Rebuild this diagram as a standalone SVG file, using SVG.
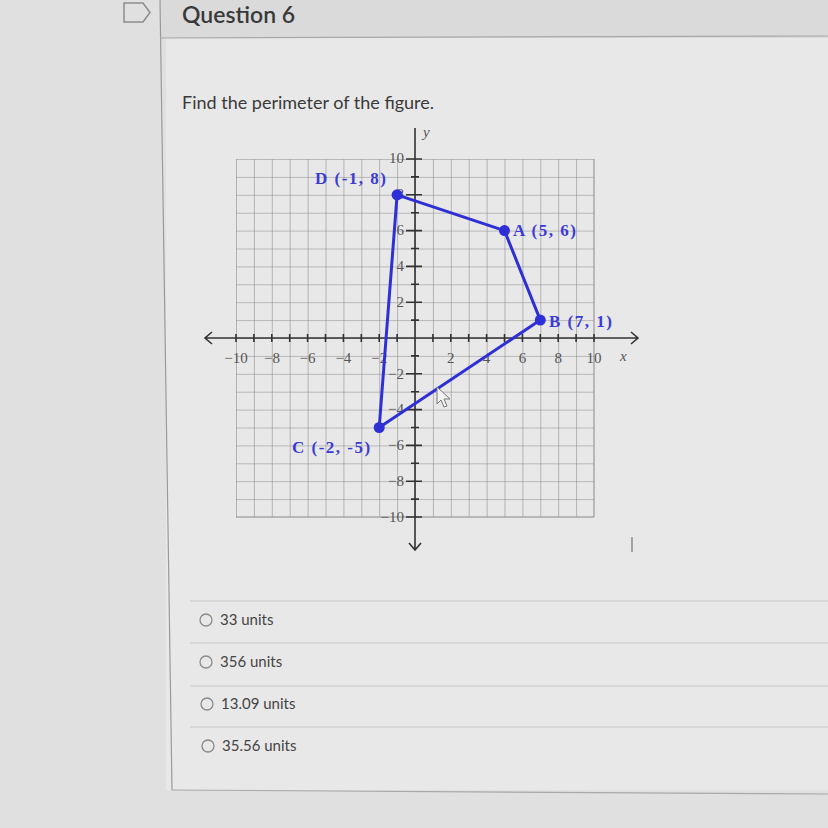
<svg xmlns="http://www.w3.org/2000/svg" width="828" height="828" viewBox="0 0 828 828">
<style>
.ui{font-family:Lato,"Open Sans","Liberation Sans",sans-serif;fill:#3a3a3a}
.tick{font-family:"Liberation Serif","DejaVu Serif",serif;font-size:15px;fill:#555}
.pt{font-family:"Liberation Serif","DejaVu Serif",serif;font-size:17px;font-weight:bold;fill:#3b3bd6;letter-spacing:1.5px}
.axis{stroke:#333;stroke-width:1.6;fill:none}
.edge{stroke:#2f2fd8;stroke-width:3;fill:none;stroke-linecap:round}
.dot{fill:#2f2fd8}
.sep{stroke:#c6c6c6;stroke-width:1}
.radio{fill:none;stroke:#8a8a8a;stroke-width:1.3}
.ans{font-family:Lato,"Open Sans","Liberation Sans",sans-serif;font-size:15px;fill:#444}
</style>
<defs>
<pattern id="gr" width="17.9" height="17.9" patternUnits="userSpaceOnUse" x="236" y="159">
<path d="M0 0V17.9M0 0H17.9" stroke="#888" stroke-width="1.1" fill="none"/>
</pattern>
</defs>
<rect width="828" height="828" fill="#e0e0e0"/>
<rect x="160" y="0" width="668" height="38" fill="#dadada"/>
<rect x="166" y="38" width="662" height="752" fill="#e8e8e8"/>
<line x1="160" y1="0" x2="172" y2="790" stroke="#9a9a9a" stroke-width="1.2"/>
<line x1="160" y1="38" x2="828" y2="36" stroke="#a8a8a8" stroke-width="1.2"/>
<line x1="172" y1="790" x2="828" y2="794" stroke="#a8a8a8" stroke-width="1.2"/>
<g id="header">
<path d="M124 3H143L150 12.5L143 22H124Z" fill="none" stroke="#8c8c8c" stroke-width="1.5"/>
<text class="ui" x="182" y="23" font-size="23" font-weight="600">Question 6</text>
</g>
<text class="ui" x="182" y="109" font-size="18">Find the perimeter of the figure.</text>
<g id="graph">
<rect x="236" y="159" width="358" height="358" fill="url(#gr)"/>
<line x1="594" y1="159" x2="594" y2="517" stroke="#888"/>
<line x1="236" y1="517" x2="594" y2="517" stroke="#888"/>
<path class="axis" d="M205 338H638M212 332L205 338L212 344M631 332L638 338L631 344"/>
<path class="axis" d="M415 128V550M409 543L415 550L421 543"/>
<path class="axis" stroke-width="1.2" d="M236 334v8M253.9 334v8M271.8 334v8M289.7 334v8M307.6 334v8M325.5 334v8M343.4 334v8M361.3 334v8M379.2 334v8M397.1 334v8M432.9 334v8M450.8 334v8M468.7 334v8M486.6 334v8M504.5 334v8M522.4 334v8M540.3 334v8M558.2 334v8M576.1 334v8M594 334v8M406 159h16M411 176.9h8M406 194.8h16M411 212.7h8M406 230.6h16M411 248.5h8M406 266.4h16M411 284.3h8M406 302.2h16M411 320.1h8M411 355.9h8M406 373.8h16M411 391.7h8M406 409.6h16M411 427.5h8M406 445.4h16M411 463.3h8M406 481.2h16M411 499.1h8M406 517h16"/>
<g class="tick" text-anchor="middle">
<text x="236" y="363">−10</text><text x="272" y="363">−8</text><text x="307.6" y="363">−6</text><text x="343.4" y="363">−4</text><text x="379.2" y="363">−2</text>
<text x="450.8" y="363">2</text><text x="486.6" y="363">4</text><text x="522.4" y="363">6</text><text x="558.2" y="363">8</text><text x="594" y="363">10</text>
</g>
<text class="tick" x="620" y="361" font-style="italic">x</text>
<text class="tick" x="423" y="137" font-style="italic">y</text>
<g class="tick" text-anchor="end">
<text x="404" y="163">10</text><text x="404" y="199">8</text><text x="404" y="235">6</text><text x="404" y="271">4</text><text x="404" y="307">2</text>
<text x="404" y="379">−2</text><text x="404" y="414">−4</text><text x="404" y="450">−6</text><text x="404" y="486">−8</text><text x="404" y="522">−10</text>
</g>
</g>
<g id="connectors">
<line class="edge" x1="397.1" y1="194.8" x2="504.5" y2="230.6"/>
<line class="edge" x1="504.5" y1="230.6" x2="540.3" y2="320.1"/>
<line class="edge" x1="540.3" y1="320.1" x2="379.2" y2="427.5"/>
<line class="edge" x1="379.2" y1="427.5" x2="397.1" y2="194.8"/>
</g>
<g id="point-D"><circle class="dot" cx="397.1" cy="194.8" r="5.5"/><text class="pt" x="315" y="184">D (-1, 8)</text></g>
<g id="point-A"><circle class="dot" cx="504.5" cy="230.6" r="5.5"/><text class="pt" x="513" y="236">A (5, 6)</text></g>
<g id="point-B"><circle class="dot" cx="540.3" cy="320.1" r="5.5"/><text class="pt" x="549" y="327">B (7, 1)</text></g>
<g id="point-C"><circle class="dot" cx="379.2" cy="427.5" r="5.5"/><text class="pt" x="292" y="453">C (-2, -5)</text></g>
<path d="M437 387L437 404L441 400L444 407L447 406L444 399L450 399Z" fill="#f2f2f2" stroke="#777" stroke-width="1"/>
<line x1="632" y1="537" x2="632" y2="552" stroke="#777" stroke-width="1.2"/>
<g id="answers">
<line class="sep" x1="190" y1="601" x2="828" y2="601"/>
<line class="sep" x1="190" y1="643" x2="828" y2="643"/>
<line class="sep" x1="190" y1="686" x2="828" y2="686"/>
<line class="sep" x1="190" y1="727" x2="828" y2="727"/>
<circle class="radio" cx="206" cy="620" r="6"/><text class="ans" x="220" y="625">33 units</text>
<circle class="radio" cx="206" cy="662" r="6"/><text class="ans" x="220" y="667">356 units</text>
<circle class="radio" cx="207" cy="704" r="6"/><text class="ans" x="221" y="709">13.09 units</text>
<circle class="radio" cx="208" cy="746" r="6"/><text class="ans" x="222" y="751">35.56 units</text>
</g>
</svg>
